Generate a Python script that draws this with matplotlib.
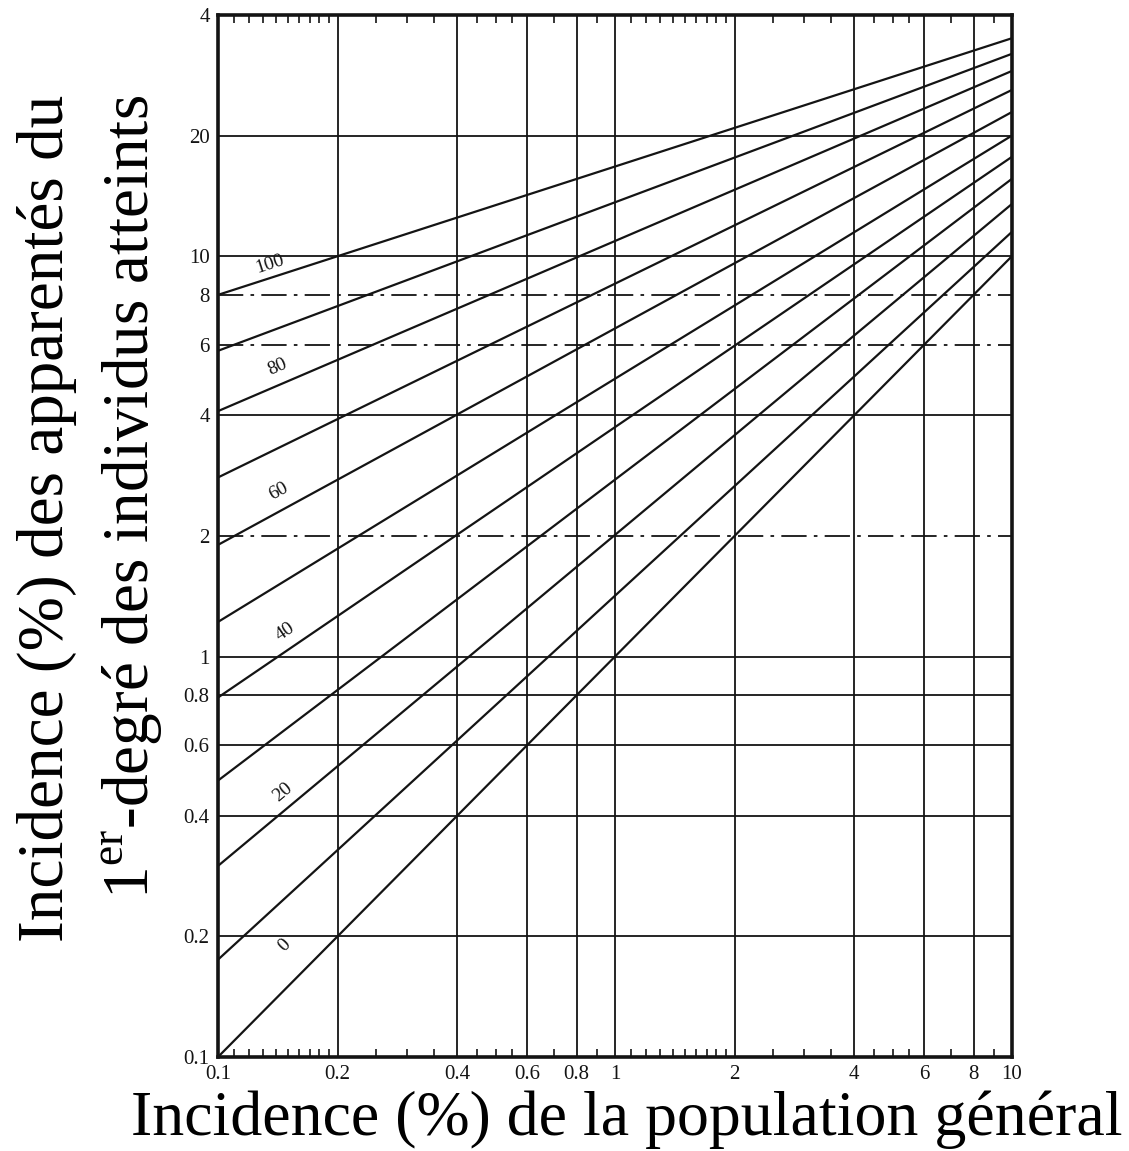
import numpy as np
import matplotlib.pyplot as plt
from matplotlib.ticker import FixedLocator, NullFormatter, NullLocator

plt.rcParams['mathtext.fontset'] = 'custom'
plt.rcParams['mathtext.rm'] = 'Liberation Serif'

# heritabilite (%) et incidence des apparentes a x=0.1 et x=10
heritabilite = [100, 90, 80, 70, 60, 50, 40, 30, 20, 10, 0]
y_gauche = [8.0, 5.8, 4.1, 2.8, 1.9, 1.22, 0.79, 0.49, 0.30, 0.175, 0.1]
y_droite = [35.0, 32.0, 29.0, 26.0, 22.9, 20.0, 17.7, 15.6, 13.5, 11.5, 10.0]
x_bornes = [0.1, 10]

# etiquettes des droites
etiquettes = ["100", "80", "60", "40", "20", "0"]
etiq_h = [100, 80, 60, 40, 20, 0]
etiq_x = [0.135, 0.141, 0.142, 0.148, 0.146, 0.147]
etiq_y = [9.55, 5.28, 2.58, 1.155, 0.457, 0.19]

xticks = [0.1, 0.2, 0.4, 0.6, 0.8, 1, 2, 4, 6, 8, 10]
xticklabels = ["0.1", "0.2", "0.4", "0.6", "0.8", "1", "2", "4", "6", "8", "10"]
yticks = [0.1, 0.2, 0.4, 0.6, 0.8, 1, 2, 4, 6, 8, 10, 20, 40]
yticklabels = ["0.1", "0.2", "0.4", "0.6", "0.8", "1", "2", "4", "6", "8", "10", "20", "4"]
y_pointilles = [2, 6, 8]
graduations = [1.1, 1.2, 1.3, 1.4, 1.5, 1.6, 1.7, 1.8, 1.9, 2.5, 3, 3.5, 4.5, 5, 5.5, 7, 9]

noir = "#141414"

fig = plt.figure(figsize=(11.29, 11.51), dpi=100)
ax = fig.add_axes([0.1931, 0.0817, 0.7033, 0.9053])
ax.set_xscale("log")
ax.set_yscale("log")
ax.set_xlim(0.1, 10)
ax.set_ylim(0.1, 40)

# grille
for xv in xticks[1:-1]:
    ax.axvline(xv, color=noir, lw=1.3, zorder=1)
for yv in yticks[1:-1]:
    if yv in y_pointilles:
        ax.axhline(yv, color=noir, lw=1.3, ls=(0, (14, 4, 2, 4)), zorder=1)
    else:
        ax.axhline(yv, color=noir, lw=1.3, zorder=1)

# droites
for h, y0, y1 in zip(heritabilite, y_gauche, y_droite):
    ax.plot(x_bornes, [y0, y1], color=noir, lw=1.6, zorder=2)

# etiquettes le long des droites
for txt, h, xe, ye in zip(etiquettes, etiq_h, etiq_x, etiq_y):
    i = heritabilite.index(h)
    p0 = ax.transData.transform((x_bornes[0], y_gauche[i]))
    p1 = ax.transData.transform((x_bornes[1], y_droite[i]))
    ang = np.degrees(np.arctan2(p1[1] - p0[1], p1[0] - p0[0]))
    ax.text(xe, ye, txt, rotation=ang, ha="center", va="center",
            fontsize=14, color=noir, family="Liberation Serif")

ax.set_xticks(xticks)
ax.set_xticklabels(xticklabels, family="Liberation Serif")
ax.set_yticks(yticks)
ax.set_yticklabels(yticklabels, family="Liberation Serif")
mineurs = [d * g for d in [0.1, 1] for g in graduations]
ax.xaxis.set_minor_locator(FixedLocator(mineurs))
ax.xaxis.set_minor_formatter(NullFormatter())
ax.yaxis.set_minor_locator(NullLocator())
ax.tick_params(axis="both", which="major", length=0, labelsize=15, labelcolor=noir, pad=6)
ax.tick_params(axis="x", which="minor", direction="in", top=True, length=6, width=1.2, color=noir)
for s in ax.spines.values():
    s.set_linewidth(2.6)
    s.set_color(noir)

fig.text(0.555, 0.027, "Incidence (%) de la population général", ha="center", va="center",
         fontsize=46, family="Liberation Serif")
fig.text(0.0416, 0.9175, "Incidence (%) des apparentés du", rotation=90, ha="center", va="top",
         fontsize=47, family="Liberation Serif")
fig.text(0.117, 0.9175, "1$^{\\rm er}$-degré des individus atteints", rotation=90, ha="center", va="top",
         fontsize=47, family="Liberation Serif")

plt.savefig("out.png", dpi=100)
plt.close()
